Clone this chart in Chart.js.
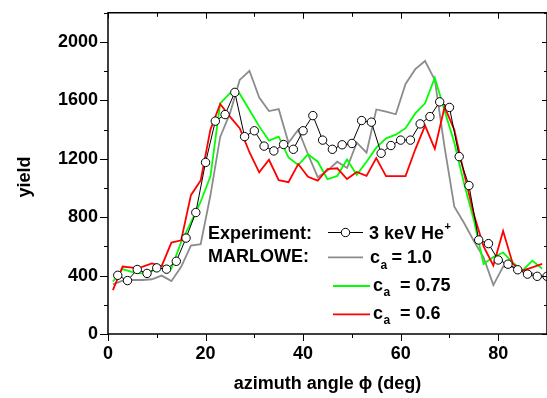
<!DOCTYPE html>
<html>
<head>
<meta charset="utf-8">
<script src="https://cdn.jsdelivr.net/npm/chart.js@4.4.0/dist/chart.umd.min.js"></script>
<style>
  html, body { margin: 0; padding: 0; background: #ffffff; }
  #wrap { width: 547px; height: 398px; position: relative; }
</style>
</head>
<body>
<div id="wrap"><canvas id="c" width="547" height="398"></canvas></div>
<script>
// ---- data ----
const angleExp = [2,4,6,8,10,12,14,16,18,20,22,24,26,28,30,32,34,36,38,40,42,44,46,48,50,52,54,56,58,60,62,64,66,68,70,72,74,76,78,80,82,84,86,88,90];
const yieldExp = [402,366,442,415,453,444,498,657,832,1175,1458,1503,1655,1352,1392,1287,1254,1298,1265,1392,1496,1328,1265,1296,1305,1462,1451,1238,1291,1328,1328,1439,1489,1590,1552,1215,1017,644,619,507,478,440,410,395,395];

const angleSim = [1,3,5,7,9,11,13,15,17,19,21,23,25,27,29,31,33,35,37,39,41,43,45,47,49,51,53,55,57,59,61,63,65,67,69,71,73,75,77,79,81,83,85,87,89];
const yieldCa10 = [340,365,370,370,375,400,362,460,605,615,950,1350,1511,1740,1803,1619,1527,1540,1310,1399,1231,1074,1119,1180,1137,1310,1242,1538,1523,1505,1713,1814,1870,1740,1280,872,760,637,525,335,462,460,435,415,390];
const yieldCa075 = [360,445,424,415,430,470,450,630,765,906,1080,1580,1650,1646,1534,1422,1325,1352,1209,1157,1231,1180,1060,1083,1195,1090,1180,1276,1340,1365,1410,1511,1580,1755,1530,1310,1030,780,480,528,558,489,435,502,448];
const yieldCa06 = [300,462,455,460,484,465,626,642,951,1052,1400,1575,1489,1410,1245,1107,1193,1054,1040,1164,1077,1050,1130,1135,1061,1110,1083,1205,1081,1081,1081,1265,1427,1268,1555,1398,1100,820,600,469,706,480,435,457,480];

const xTickValues = [0,20,40,60,80];
const yTickValues = [0,400,800,1200,1600,2000];

const FONT = '"Liberation Sans", Arial, Helvetica, sans-serif';
const TITLE_FONT = '"Liberation Sans", "DejaVu Sans", Arial, sans-serif';

function pts(xs, ys) { return xs.map((x, i) => ({ x: x, y: ys[i] })); }

// frame, minor ticks, y title and legend
const decor = {
  id: 'decor',
  afterDraw(chart) {
    const ctx = chart.ctx;
    const { left, right, top, bottom } = chart.chartArea;
    const xs = chart.scales.x, ys = chart.scales.y;
    ctx.save();
    ctx.strokeStyle = '#000';
    ctx.lineWidth = 1.5;
    ctx.beginPath();
    ctx.moveTo(left, bottom); ctx.lineTo(left, top); ctx.lineTo(right, top);
    ctx.lineTo(right, bottom); ctx.closePath();
    ctx.stroke();
    ctx.lineWidth = 1;
    ctx.beginPath();
    for (let v = 0; v <= 90; v += 10) {
      const px = Math.round(xs.getPixelForValue(v)) + 0.5;
      const major = v % 20 === 0;
      ctx.moveTo(px, bottom); ctx.lineTo(px, bottom + (major ? 7 : 4));
      ctx.moveTo(px, top); ctx.lineTo(px, top + (major ? 6 : 4));
    }
    for (let v = 0; v <= 2200; v += 200) {
      const py = Math.round(ys.getPixelForValue(v)) + 0.5;
      const major = v % 400 === 0;
      ctx.moveTo(left, py); ctx.lineTo(left - (major ? 8 : 4), py);
      ctx.moveTo(right, py); ctx.lineTo(right - (major ? 5 : 3), py);
    }
    ctx.stroke();

    // y axis title
    ctx.fillStyle = '#000';
    ctx.font = 'bold 18px ' + FONT;
    ctx.save();
    ctx.translate(25, 177);
    ctx.rotate(-Math.PI / 2);
    ctx.textAlign = 'center';
    ctx.textBaseline = 'middle';
    ctx.fillText('yield', 0, 0);
    ctx.restore();

    // legend
    ctx.textBaseline = 'alphabetic';
    ctx.textAlign = 'left';
    ctx.font = 'bold 18px ' + FONT;
    ctx.fillText('Experiment:', 208, 239);
    ctx.fillText('MARLOWE:', 208, 262);

    ctx.strokeStyle = '#000'; ctx.lineWidth = 1;
    ctx.beginPath(); ctx.moveTo(328, 232.5); ctx.lineTo(363, 232.5); ctx.stroke();
    ctx.beginPath(); ctx.arc(345.5, 232.5, 4.2, 0, Math.PI * 2);
    ctx.fillStyle = '#fff'; ctx.fill(); ctx.stroke();
    ctx.fillStyle = '#000';
    ctx.font = 'bold 18px ' + FONT;
    ctx.fillText('3 keV He', 369, 238.5);
    const wHe = ctx.measureText('3 keV He').width;
    ctx.font = 'bold 11px ' + FONT;
    ctx.fillText('+', 369 + wHe + 0.5, 230);

    const rows = [
      { color: '#8c8c8c', x0: 328, x1: 363, y: 257.3, cx: 370, base: 263.3, eqx: 391.5, val: '= 1.0' },
      { color: '#00ff00', x0: 333, x1: 370, y: 286, cx: 373, base: 291, eqx: 400, val: '= 0.75' },
      { color: '#ff0000', x0: 333, x1: 370, y: 314.3, cx: 373, base: 318.5, eqx: 400, val: '= 0.6' }
    ];
    rows.forEach(r => {
      ctx.strokeStyle = r.color; ctx.lineWidth = 1.8;
      ctx.beginPath(); ctx.moveTo(r.x0, r.y); ctx.lineTo(r.x1, r.y); ctx.stroke();
      ctx.fillStyle = '#000';
      ctx.font = 'bold 18px ' + FONT;
      ctx.fillText('c', r.cx, r.base);
      const wc = ctx.measureText('c').width;
      ctx.fillText(r.val, r.eqx, r.base);
      ctx.font = 'bold 12px ' + FONT;
      ctx.fillText('a', r.cx + wc + 0.5, r.base + 5.2);
    });
    ctx.restore();
  }
};

const ctx = document.getElementById('c').getContext('2d');
new Chart(ctx, {
  type: 'line',
  data: {
    datasets: [
      {
        label: '3 keV He+',
        data: pts(angleExp, yieldExp),
        borderColor: '#000000',
        borderWidth: 1,
        pointRadius: 4.2,
        pointBackgroundColor: '#ffffff',
        pointBorderColor: '#000000',
        pointBorderWidth: 1,
        tension: 0,
        order: 0
      },
      {
        label: 'ca = 0.6',
        data: pts(angleSim, yieldCa06),
        borderColor: '#ff0000',
        borderWidth: 1.8,
        pointRadius: 0,
        tension: 0,
        order: 1
      },
      {
        label: 'ca = 0.75',
        data: pts(angleSim, yieldCa075),
        borderColor: '#00ff00',
        borderWidth: 1.8,
        pointRadius: 0,
        tension: 0,
        order: 2
      },
      {
        label: 'ca = 1.0',
        data: pts(angleSim, yieldCa10),
        borderColor: '#8c8c8c',
        borderWidth: 1.8,
        pointRadius: 0,
        tension: 0,
        order: 3
      }
    ]
  },
  options: {
    responsive: false,
    animation: false,
    devicePixelRatio: 1,
    layout: { autoPadding: false, padding: { top: 7, right: 0, left: 0, bottom: 0 } },
    plugins: { legend: { display: false }, tooltip: { enabled: false } },
    scales: {
      x: {
        type: 'linear',
        min: 0, max: 90,
        afterBuildTicks: s => { s.ticks = xTickValues.map(v => ({ value: v })); },
        afterFit: s => { s.height = 64; },
        grid: { display: true, drawOnChartArea: false, drawTicks: true, tickLength: 8, tickColor: 'rgba(0,0,0,0)' },
        border: { display: false },
        ticks: { color: '#000', padding: 1, maxRotation: 0, callback: v => String(v), font: { family: FONT, size: 18, weight: 'bold' } },
        title: { display: true, text: 'azimuth angle ϕ (deg)', color: '#000', padding: { top: 0, bottom: 3 }, font: { family: TITLE_FONT, size: 18, weight: 'bold' } }
      },
      y: {
        type: 'linear',
        min: 0, max: 2200,
        afterBuildTicks: s => { s.ticks = yTickValues.map(v => ({ value: v })); },
        afterFit: s => { s.width = 108; },
        grid: { display: true, drawOnChartArea: false, drawTicks: true, tickLength: 8, tickColor: 'rgba(0,0,0,0)' },
        border: { display: false },
        ticks: { color: '#000', padding: 2, callback: v => String(v), font: { family: FONT, size: 18, weight: 'bold' } },
        title: { display: false, text: 'yield' }
      }
    }
  },
  plugins: [decor]
});
</script>
</body>
</html>
